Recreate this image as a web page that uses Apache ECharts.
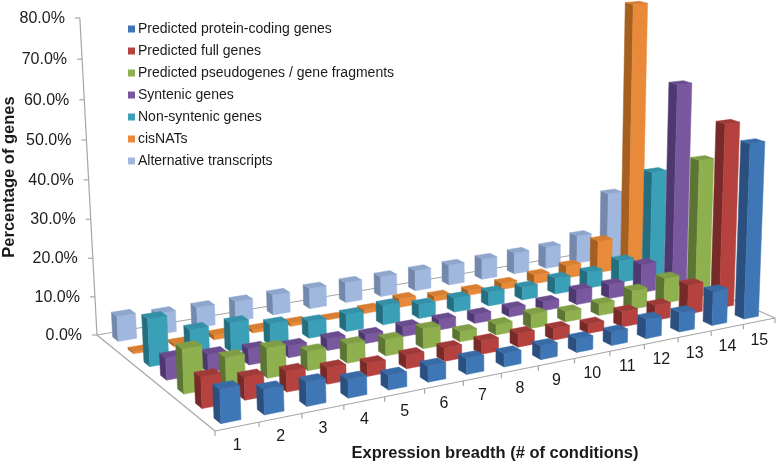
<!DOCTYPE html>
<html><head><meta charset="utf-8">
<style>html,body{margin:0;padding:0;background:#fff}#c{width:778px;height:464px}</style>
<script src="https://cdn.jsdelivr.net/npm/echarts@6/dist/echarts.min.js"></script>
</head><body><div id="c"></div>
<script>
const categories = ['1','2','3','4','5','6','7','8','9','10','11','12','13','14','15'];
const yTicks = [0,10,20,30,40,50,60,70,80];
const proteinCoding = [8,6,5.8,4.5,3.6,4,4,3.4,3.5,3.5,3.5,5.2,5.2,9.2,47];
const fullGenes = [7.5,5.5,5,4,3.2,3.4,3.4,3.4,3.5,3.1,2.5,4.1,4.1,8,50];
const pseudogenes = [11,7,7.5,4.8,4.8,4.2,5.2,2.7,2.8,3.8,2.8,3.2,5.2,7,38];
const syntenic = [5.5,4.5,4,3,3,2.3,2.6,2.7,2.4,2.4,2.4,4,3.9,8,56.5];
const nonSyntenic = [12,7.5,7.5,5.5,4.3,4.5,5.2,3.7,3.8,3.8,3.5,4.4,4.6,6.3,30];
const cisNATs = [0.5,0.7,1.2,0.8,0.8,0.2,1,2.3,1.3,1.3,1.7,2.5,3.5,9.2,75];
const altTranscripts = [6.5,5.5,5.4,5.3,5.4,5.5,5.5,5.5,5.6,5.6,5.8,6,6.2,8,19];
const rowNames = ['Predicted protein-coding genes','Predicted full genes','Predicted pseudogenes / gene fragments','Syntenic genes','Non-syntenic genes','cisNATs','Alternative transcripts'];
const rowValues = [proteinCoding,fullGenes,pseudogenes,syntenic,nonSyntenic,cisNATs,altTranscripts];
// front, side, top
const rowColors = [
 ['#3F76B5','#2B5080','#386AA6'],
 ['#B5423F','#782A28','#A03A38'],
 ['#8FB04E','#5C7434','#7F9E45'],
 ['#7A589F','#4E3870','#6A4C8E'],
 ['#3AA0B8','#246E80','#3490A8'],
 ['#E98A3A','#A5601F','#D87E30'],
 ['#A0B8DE','#7388AA','#8FA6CC']
];
const axisGrey = '#A6A6A6', textCol = '#1a1a1a', FONT='"Liberation Sans",Arial,sans-serif';

// camera: floor quad corners (front-left, front-right, back-right, back-left), vertical vanishing point
const Q=[[215,431],[775,318],[615,248],[97,335]], VP=[490,7600], TOP_Y=18;
const BAR_U=0.46, BAR_V=0.36;
const H=(function(){
 const [x0,y0]=Q[0],[x1,y1]=Q[1],[x2,y2]=Q[2],[x3,y3]=Q[3];
 const dx1=x1-x2,dx2=x3-x2,sx=x0-x1+x2-x3,dy1=y1-y2,dy2=y3-y2,sy=y0-y1+y2-y3;
 const det=dx1*dy2-dx2*dy1,g=(sx*dy2-dx2*sy)/det,h=(dx1*sy-sx*dy1)/det;
 const W0=h+1,Y0=y3-y0+h*y3+y0;
 return {a:x1-x0+g*x1,b:x3-x0+h*x3,c:x0,d:y1-y0+g*y1,e:y3-y0+h*y3,f:y0,g,h,l:(TOP_Y*W0-Y0)/(VP[1]-TOP_Y)};
})();
function P(u,v,t){
 const w=H.g*u+H.h*v+1+H.l*t;
 return [(H.a*u+H.b*v+H.c+H.l*t*VP[0])/w,(H.d*u+H.e*v+H.f+H.l*t*VP[1])/w];
}
function makeBar(row){
 return function(params,api){
  const cs=params.coordSys, i=api.value(0);
  const c=api.coord([i,api.value(1)]);
  const uc=(c[0]-cs.x)/cs.width, t=(cs.y+cs.height-c[1])/cs.height;
  const du=BAR_U/categories.length/2, dv=BAR_V/rowNames.length/2, vc=(row+.5)/rowNames.length;
  const u0=uc-du,u1=uc+du,v0=vc-dv,v1=vc+dv, col=rowColors[row];
  const poly=(pts,fill)=>({type:'polygon',z2:categories.length-i,shape:{points:pts},style:{fill:fill,stroke:fill,lineWidth:0.5}});
  return {type:'group',children:[
   poly([P(u0,v0,0),P(u0,v1,0),P(u0,v1,t),P(u0,v0,t)],col[1]),
   poly([P(u0,v0,0),P(u1,v0,0),P(u1,v0,t),P(u0,v0,t)],col[0]),
   poly([P(u0,v0,t),P(u1,v0,t),P(u1,v1,t),P(u0,v1,t)],col[2])
  ]};
 };
}
function frame(params,api){
 const cs=params.coordSys, ch=[];
 const line=(a,b)=>ch.push({type:'line',shape:{x1:a[0],y1:a[1],x2:b[0],y2:b[1]},style:{stroke:axisGrey,lineWidth:1.2}});
 const txt=(s,x,y,align,size)=>ch.push({type:'text',style:{text:s,x:x,y:y,align:align,verticalAlign:'middle',fill:textCol,font:size+'px '+FONT}});
 line(P(0,0,0),P(1,0,0));line(P(0,0,0),P(0,1,0));line(P(0,1,0),P(1,1,0));line(P(1,0,0),P(1,1,0));
 line(P(0,1,0),P(0,1,1));
 yTicks.forEach(v=>{
  const py=api.coord([0,v]), t=(cs.y+cs.height-py[1])/cs.height, p=P(0,1,t);
  line(p,[p[0]-5,p[1]]);
  txt(v.toFixed(1)+'%',p[0]-15,p[1]+0.5,'right',16);
 });
 categories.forEach((s,i)=>{
  const u0=i/categories.length,p=P(u0,0,0);
  line(p,[p[0],p[1]+5]);
  const c=api.coord([i,0]),m=P((c[0]-cs.x)/cs.width,0,0);
  txt(s,m[0],m[1]+19,'center',16);
 });
 const e=P(1,0,0);line(e,[e[0],e[1]+5]);
 return {type:'group',children:ch};
}
const series=[{type:'custom',name:'frame',coordinateSystem:'cartesian2d',silent:true,z:1,clip:false,renderItem:frame,data:[[0,0]]}];
rowNames.forEach((n,r)=>{
 series.push({type:'custom',name:n,coordinateSystem:'cartesian2d',z:20-r,clip:false,renderItem:makeBar(r),
  itemStyle:{color:rowColors[r][0]},encode:{x:0,y:1},
  data:rowValues[r].map((v,i)=>[i,v])});
});
const chart=echarts.init(document.getElementById('c'),null,{renderer:'canvas'});
chart.setOption({
 animation:false,backgroundColor:'#fff',
 grid:{left:0,right:0,top:0,bottom:0},
 xAxis:{type:'category',data:categories,show:false},
 yAxis:{type:'value',min:0,max:80,show:false},
 legend:{data:rowNames,orient:'vertical',left:123,top:17,icon:'rect',itemWidth:7,itemHeight:7,itemGap:8,
  selectedMode:false,textStyle:{color:textCol,fontSize:14,fontFamily:FONT,padding:[0,0,0,-2]}},
 graphic:[
  {type:'text',x:9,y:177,rotation:Math.PI/2,silent:true,style:{text:'Percentage of genes',align:'center',verticalAlign:'middle',fill:textCol,font:'bold 16.5px '+FONT}},
  {type:'text',x:495,y:453,silent:true,style:{text:'Expression breadth (# of conditions)',align:'center',verticalAlign:'middle',fill:textCol,font:'bold 16.5px '+FONT}}
 ],
 series:series
});
</script></body></html>
